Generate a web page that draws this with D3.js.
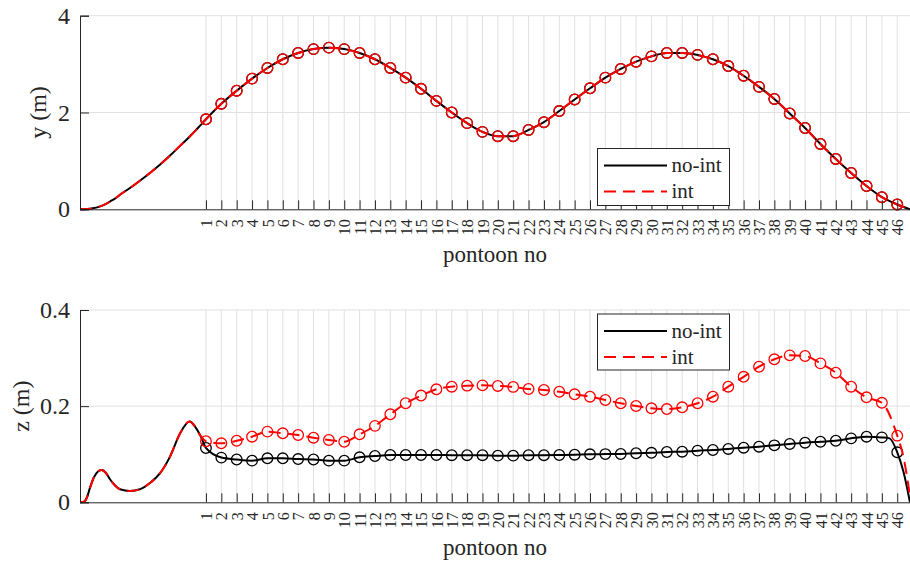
<!DOCTYPE html>
<html>
<head>
<meta charset="utf-8">
<script src="https://cdn.jsdelivr.net/npm/d3@7"></script>
<style>
  html, body { margin: 0; padding: 0; background: #fff; }
  svg { display: block; }
  svg text { font-family: "Liberation Serif", Tinos, "Times New Roman", "Nimbus Roman", "DejaVu Serif", serif; fill: #262626; }
</style>
</head>
<body>
<svg id="chart" width="910" height="563"></svg>
<script>
// Pontoon numbers along the bridge (x tick labels)
const pontoonLabels = [1, 2, 3, 4, 5, 6, 7, 8, 9, 10, 11, 12, 13, 14, 15, 16, 17, 18, 19, 20, 21, 22, 23,
  24, 25, 26, 27, 28, 29, 30, 31, 32, 33, 34, 35, 36, 37, 38, 39, 40, 41, 42, 43, 44, 45, 46];

// Approach span ahead of pontoon 1 (position in pontoon spacings)
const approachX = [-7.2, -6.94, -6.75, -6.55, -6.29, -6.03, -5.79, -5.51, -5.25, -4.92, -4.6,
  -3.95, -3.3, -2.65, -2.0, -1.34, -0.69, -0.07, 0.3, 0.65];
const yApproach = [0, 0.002, 0.005, 0.01, 0.025, 0.045, 0.07, 0.11, 0.16, 0.22, 0.30,
  0.44, 0.59, 0.75, 0.92, 1.11, 1.31, 1.50, 1.62, 1.74];
const zApproach = [0, 0.001, 0.010, 0.030, 0.052, 0.064, 0.067, 0.061, 0.048, 0.035, 0.027,
  0.0235, 0.027, 0.040, 0.060, 0.095, 0.143, 0.168, 0.157, 0.138];

// Horizontal displacement y (m) at each pontoon
const yNoInt = [1.86, 2.18, 2.45, 2.70, 2.92, 3.10, 3.23, 3.31, 3.34, 3.31, 3.23, 3.10, 2.92, 2.72,
  2.49, 2.24, 2.00, 1.78, 1.60, 1.51, 1.51, 1.64, 1.80, 2.03, 2.27, 2.50, 2.72, 2.90, 3.05, 3.16,
  3.23, 3.23, 3.19, 3.10, 2.96, 2.76, 2.53, 2.28, 1.98, 1.68, 1.35, 1.04, 0.75, 0.48, 0.25, 0.10];
const yInt = [1.86, 2.18, 2.45, 2.70, 2.92, 3.10, 3.23, 3.31, 3.34, 3.31, 3.23, 3.10, 2.92, 2.72,
  2.49, 2.24, 2.00, 1.78, 1.60, 1.51, 1.51, 1.64, 1.80, 2.03, 2.27, 2.50, 2.72, 2.90, 3.05, 3.16,
  3.23, 3.23, 3.19, 3.10, 2.96, 2.76, 2.53, 2.28, 1.98, 1.68, 1.35, 1.04, 0.75, 0.48, 0.25, 0.10];

// Vertical displacement z (m) at each pontoon
const zNoInt = [0.113, 0.093, 0.089, 0.0866, 0.0915, 0.0915, 0.090, 0.089, 0.0866, 0.0866, 0.0936,
  0.0963, 0.0984, 0.0984, 0.0984, 0.0984, 0.098, 0.098, 0.098, 0.097, 0.097, 0.098, 0.098, 0.0984,
  0.099, 0.0998, 0.1003, 0.1005, 0.102, 0.103, 0.1046, 0.1053, 0.1074, 0.1088, 0.111, 0.1136,
  0.1157, 0.1185, 0.1213, 0.124, 0.126, 0.128, 0.133, 0.1365, 0.135, 0.104];
const zInt = [0.127, 0.1227, 0.128, 0.1365, 0.147, 0.1435, 0.140, 0.1344, 0.1296, 0.126, 0.1414,
  0.159, 0.183, 0.206, 0.222, 0.235, 0.2405, 0.2426, 0.2433, 0.242, 0.240, 0.2357, 0.2336, 0.230,
  0.2246, 0.2197, 0.2128, 0.206, 0.2003, 0.1955, 0.194, 0.1976, 0.206, 0.2197, 0.2405, 0.261,
  0.282, 0.2975, 0.3057, 0.3043, 0.289, 0.2696, 0.2405, 0.2184, 0.207, 0.1386];

// Far-end abutment segment beyond the last pontoons
const yTailX = [46.83];
const yTail = [0];
const zNoIntTailX = [45.5, 46.4, 46.83];
const zNoIntTail = [0.133, 0.064, 0];
const zIntTailX = [46.4, 46.83];
const zIntTail = [0.095, 0.012];

const seriesNames = ["no-int", "int"];

// ---------------------------------------------------------------------------
const FONT = '"Liberation Serif", Tinos, "Times New Roman", "Nimbus Roman", "DejaVu Serif", serif';
const svg = d3.select("#chart");
const x = d3.scaleLinear().domain([-7.2, 46.83]).range([80, 910]);

const GRID = "#e1e1e1";
const AXIS = "#262626";

function profile(appX, appV, pontV, tailX, tailV) {
  const pts = appX.map((px, i) => [px, appV[i]])
    .concat(pontoonLabels.map((p, i) => [p, pontV[i]]))
    .concat(tailX.map((px, i) => [px, tailV[i]]));
  return pts.sort((a, b) => a[0] - b[0]);
}

function drawPanel(cfg) {
  const y = d3.scaleLinear().domain(cfg.domain).range(cfg.range);
  const g = svg.append("g").attr("font-family", FONT);
  const [y0, y1] = cfg.range;

  // grid
  g.append("g").selectAll("line").data(pontoonLabels).join("line")
    .attr("x1", d => x(d)).attr("x2", d => x(d))
    .attr("y1", y0).attr("y2", y1)
    .attr("stroke", GRID).attr("stroke-width", 1);
  g.append("g").selectAll("line").data(cfg.ticks.slice(1)).join("line")
    .attr("x1", x.range()[0]).attr("x2", x.range()[1])
    .attr("y1", d => y(d)).attr("y2", d => y(d))
    .attr("stroke", GRID).attr("stroke-width", 1);

  const line = d3.line().x(d => x(d[0])).y(d => y(d[1])).curve(d3.curveMonotoneX);

  const series = [
    { name: seriesNames[0], pts: cfg.noInt, marks: cfg.noIntMarks, color: "#000000", dash: null },
    { name: seriesNames[1], pts: cfg.int, marks: cfg.intMarks, color: "#ff0000", dash: "12,7" }
  ];

  series.forEach(s => {
    g.append("path").datum(s.pts)
      .attr("d", line)
      .attr("fill", "none")
      .attr("stroke", s.color)
      .attr("stroke-width", 2)
      .attr("stroke-dasharray", s.dash);
    g.append("g").selectAll("circle").data(s.marks).join("circle")
      .attr("cx", (d, i) => x(pontoonLabels[i]))
      .attr("cy", d => y(d))
      .attr("r", 5.3)
      .attr("fill", "none")
      .attr("stroke", s.color)
      .attr("stroke-width", 1.3);
  });

  // y axis
  const ya = g.append("g").attr("transform", `translate(${x.range()[0]},0)`)
    .call(d3.axisLeft(y).tickValues(cfg.ticks).tickSize(-9).tickPadding(10).tickFormat(d => String(d)));
  ya.attr("font-family", FONT);
  ya.select(".domain").attr("stroke", AXIS).attr("stroke-width", 1);
  ya.selectAll(".tick line").attr("stroke", AXIS);
  ya.selectAll(".tick text").style("font-size", "24px").attr("fill", AXIS);

  // x axis
  const xa = g.append("g").attr("transform", `translate(0,${y0})`)
    .call(d3.axisBottom(x).tickValues(pontoonLabels).tickSize(-9).tickFormat(d => String(d)));
  xa.attr("font-family", FONT);
  xa.select(".domain").attr("stroke", AXIS).attr("stroke-width", 1);
  xa.selectAll(".tick line").attr("stroke", AXIS);
  xa.selectAll(".tick text")
    .attr("x", 0).attr("y", 0).attr("dy", "0.35em")
    .attr("transform", "translate(0,10) rotate(-90)")
    .attr("text-anchor", "end")
    .attr("fill", AXIS)
    .style("font-size", "16px");

  // axis titles
  g.append("text")
    .attr("x", (x.range()[0] + x.range()[1]) / 2)
    .attr("y", y0 + 53)
    .attr("text-anchor", "middle")
    .style("font-size", "23px")
    .text("pontoon no");
  g.append("text")
    .attr("transform", `translate(${cfg.labelX},${(y0 + y1) / 2}) rotate(-90)`)
    .attr("text-anchor", "middle")
    .attr("dy", "0.35em")
    .style("font-size", "24px")
    .text(cfg.label);

  // legend
  const lg = g.append("g").attr("transform", `translate(${cfg.legend[0]},${cfg.legend[1]})`);
  lg.append("rect").attr("x", 0).attr("y", 0).attr("width", 132).attr("height", cfg.legend[2])
    .attr("fill", "#fff").attr("stroke", AXIS).attr("stroke-width", 1);
  series.forEach((s, i) => {
    const ly = 17 + i * 26;
    lg.append("line").attr("x1", 6.5).attr("x2", 69.5).attr("y1", ly).attr("y2", ly)
      .attr("stroke", s.color).attr("stroke-width", 2).attr("stroke-dasharray", s.dash);
    lg.append("text").attr("x", 74).attr("y", ly).attr("dy", "0.32em")
      .style("font-size", "21px").text(s.name);
  });
}

drawPanel({
  domain: [0, 4], range: [209.3, 15.7], ticks: [0, 2, 4], label: "y (m)", labelX: 38,
  noInt: profile(approachX, yApproach, yNoInt, yTailX, yTail), noIntMarks: yNoInt,
  int: profile(approachX, yApproach, yInt, yTailX, yTail), intMarks: yInt,
  legend: [597.5, 148.5, 57]
});

drawPanel({
  domain: [0, 0.4], range: [502.3, 310], ticks: [0, 0.2, 0.4], label: "z (m)", labelX: 21,
  noInt: profile(approachX, zApproach, zNoInt, zNoIntTailX, zNoIntTail), noIntMarks: zNoInt,
  int: profile(approachX, zApproach, zInt, zIntTailX, zIntTail), intMarks: zInt,
  legend: [597.5, 314, 56]
});
</script>
</body>
</html>
